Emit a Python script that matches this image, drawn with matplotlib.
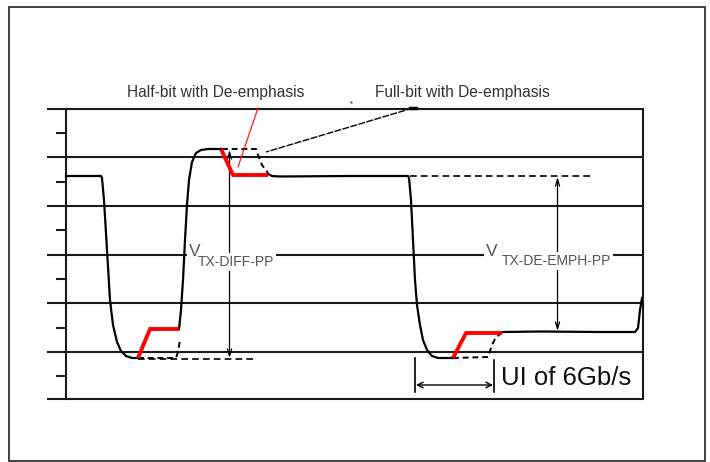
import matplotlib.pyplot as plt
from matplotlib.patches import Rectangle

# diagram coordinates (pixels of a 710x462 canvas, y downwards)
grid_levels = [109, 156.5, 205.5, 254.5, 302.5, 351.5, 398.5]
tick_levels = [133, 182, 230, 279, 328, 376]

# main signal, solid black pieces
wave1_x = [66, 101, 102, 104, 107, 110, 113, 117, 121, 126, 132, 138]
wave1_y = [176, 176, 178, 200, 250, 300, 325, 342, 351, 356, 358, 358]
wave2_x = [179, 181, 183, 185, 187, 189, 192, 196, 201, 208, 222]
wave2_y = [329, 310, 280, 240, 205, 180, 162, 153, 150, 149, 149]
wave3_x = [268, 272, 280, 350, 408, 409, 411, 413, 415, 417, 420, 423, 427, 432, 438, 453]
wave3_y = [174, 176, 176.5, 176, 176, 178, 200, 240, 280, 305, 325, 340, 350, 356, 358, 358]
wave4_x = [502, 540, 600, 635, 638, 640, 642]
wave4_y = [332, 331.5, 332, 332, 328, 310, 298]

# half-bit de-emphasis (red)
half_bits = [
    ([138, 150, 179], [358, 329, 329]),
    ([221, 233, 268], [149, 175, 175]),
    ([453, 466, 502], [358, 333, 333]),
]
# full-bit de-emphasis (dashed black)
full_bits = [
    ([138, 176, 178, 180], [358, 358, 352, 340]),
    ([222, 256, 258, 262, 268], [149, 149, 155, 165, 173]),
    ([453, 488, 492, 496, 502], [358, 357, 345, 337, 333]),
]
ref_low = ([138, 257], [358.5, 358.5])
ref_high = ([410, 590], [176, 176])


def main():
    fig = plt.figure(figsize=(7.1, 4.62), dpi=100)
    ax = fig.add_axes([0, 0, 1, 1])
    ax.set_xlim(0, 710)
    ax.set_ylim(462, 0)
    ax.axis("off")

    # outer frame
    ax.add_patch(Rectangle((9, 6.5), 696, 454, fill=False, ec="#333333", lw=1.3))

    # graticule
    for y in grid_levels:
        ax.plot([47, 643], [y, y], color="#1a1a1a", lw=1.5, solid_capstyle="butt")
    for y in tick_levels:
        ax.plot([55.5, 65.5], [y, y], color="#1a1a1a", lw=1.5, solid_capstyle="butt")
    ax.plot([65.5, 65.5], [109, 398.5], color="#1a1a1a", lw=1.5)
    ax.plot([643, 643], [109, 398.5], color="#1a1a1a", lw=1.5)

    # waveform
    for xs, ys in [(wave1_x, wave1_y), (wave2_x, wave2_y),
                   (wave3_x, wave3_y), (wave4_x, wave4_y)]:
        ax.plot(xs, ys, color="black", lw=1.6, zorder=4)
    for xs, ys in full_bits:
        ax.plot(xs, ys, color="black", lw=1.4, ls=(0, (3, 2)), zorder=4)
    for xs, ys in half_bits:
        ax.plot(xs, ys, color="#ff0000", lw=2.8, zorder=5,
                solid_capstyle="butt", solid_joinstyle="miter")
    for xs, ys in [ref_low, ref_high]:
        ax.plot(xs, ys, color="black", lw=1.2, ls=(0, (4, 2.5)), zorder=3)

    # amplitude arrows
    arrow_kw = dict(arrowstyle="<->,head_length=0.5,head_width=0.15",
                    color="black", lw=0.9, shrinkA=0, shrinkB=0)
    ax.annotate("", xy=(229.5, 150), xytext=(229.5, 358), arrowprops=arrow_kw, zorder=3)
    ax.annotate("", xy=(557.5, 177), xytext=(557.5, 331), arrowprops=arrow_kw, zorder=3)

    box = dict(facecolor="white", edgecolor="none", pad=1.5)
    ax.text(189, 251, "V", fontsize=12.5, color="#555555", family="Liberation Sans",
            ha="left", va="center", bbox=box, zorder=6)
    ax.text(198, 262, "TX-DIFF-PP", fontsize=10, color="#555555", family="Liberation Sans",
            ha="left", va="center", bbox=box, zorder=6)
    ax.text(486, 251, "V", fontsize=12.5, color="#555555", family="Liberation Sans",
            ha="left", va="center", bbox=box, zorder=6)
    ax.text(502, 261, "TX-DE-EMPH-PP", fontsize=10, color="#555555", family="Liberation Sans",
            ha="left", va="center", bbox=box, zorder=6)

    # unit interval marker
    ax.plot([415, 415], [358, 392], color="black", lw=1.2)
    ax.plot([494, 494], [360, 392], color="black", lw=1.2)
    ax.annotate("", xy=(416, 385), xytext=(493, 385),
                arrowprops=dict(arrowstyle="<->,head_length=0.4,head_width=0.2",
                                color="black", lw=1.0, shrinkA=0, shrinkB=0))
    ax.text(501, 378, "UI of 6Gb/s", fontsize=18.5, color="#111111",
            family="Liberation Sans", ha="left", va="center")

    # callouts
    ax.text(127, 92, "Half-bit with De-emphasis", fontsize=11.2, color="#333333",
            family="Liberation Sans", ha="left", va="center")
    ax.text(375, 92, "Full-bit with De-emphasis", fontsize=11.2, color="#333333",
            family="Liberation Sans", ha="left", va="center")
    ax.plot([258, 238], [108, 167], color="#ff2020", lw=0.9, zorder=6)
    ax.plot([413, 266], [108, 152], color="black", lw=1.0, ls=(0, (5, 1)), zorder=6)
    ax.plot([410, 416], [108, 108], color="black", lw=2.5, zorder=6)
    ax.plot([351], [102], marker="s", ms=1.5, color="#ff0000", mec="none")

    fig.savefig("out.png", dpi=100)
    plt.close(fig)


if __name__ == "__main__":
    main()
